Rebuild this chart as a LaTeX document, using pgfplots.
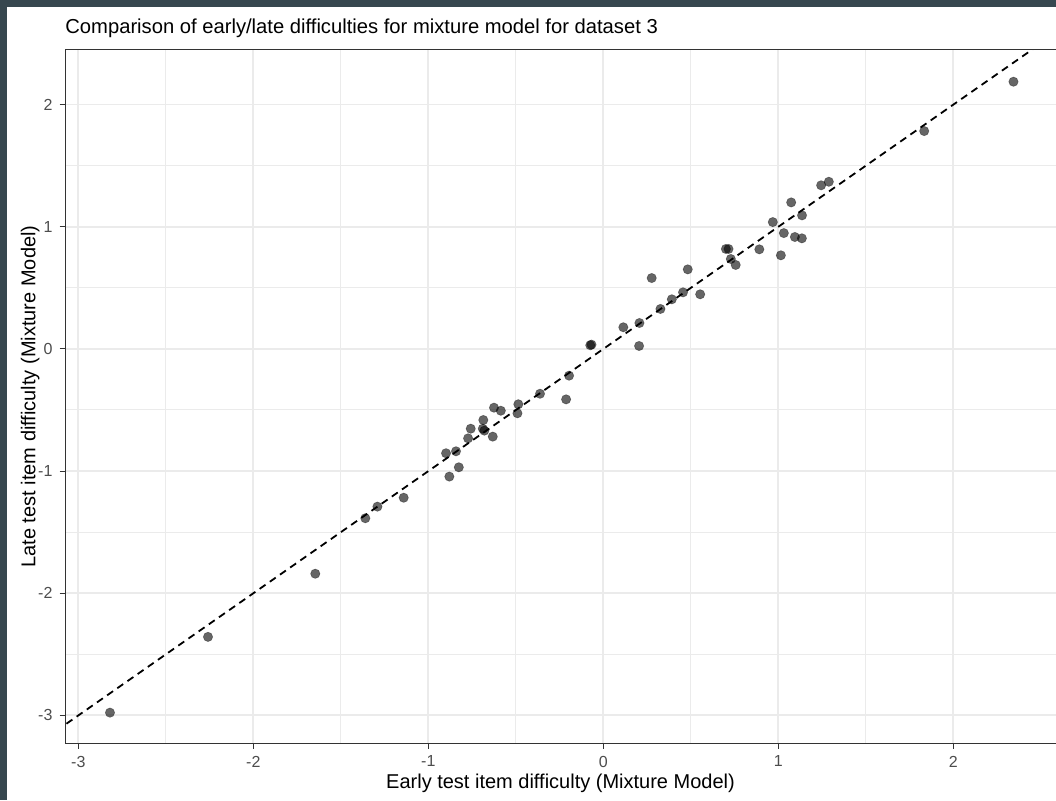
\documentclass[border=0pt]{standalone}
\usepackage{pgfplots}
\pgfplotsset{compat=1.18}
\usepackage{fontspec}
\setmainfont{Liberation Sans}
\definecolor{frame}{HTML}{37474F}
\definecolor{gridc}{HTML}{EBEBEB}
\definecolor{grey20}{HTML}{333333}
\definecolor{grey30}{HTML}{4D4D4D}

\begin{document}
\begin{tikzpicture}
% page: 1 px of the reference = 0.5pt
\path[use as bounding box, fill=frame] (-32.5pt,-28.35pt) rectangle (495.5pt,371.65pt);
\fill[white] (-29pt,-28.35pt) rectangle (495.5pt,368.15pt);
\begin{axis}[
  at={(0,0)}, anchor=south west,
  scale only axis, width=495.5pt, height=346.75pt,
  xmin=-3.076, xmax=2.586, ymin=-3.228, ymax=2.448,
  xtick={-3,-2,-1,0,1,2}, ytick={-3,-2,-1,0,1,2},
  xticklabels={-3,-2,-1,0,1,2}, yticklabels={-3,-2,-1,0,1,2},
  minor tick num=1, minor tick length=0pt,
  major tick length=2.75pt, tick align=outside,
  xtick pos=bottom, ytick pos=left,
  tick style={grey20, line width=0.5pt},
  grid=both,
  major grid style={gridc, line width=0.95pt},
  minor grid style={gridc, line width=0.5pt},
  axis line style={draw=none},
  tick label style={font=\fontsize{8pt}{9pt}\selectfont, text=grey30},
  every axis x label/.style={at={(axis description cs:0.5,0)}, anchor=base,
    yshift=-22.35pt, inner sep=0pt, font=\fontsize{10pt}{12pt}\selectfont},
  every axis y label/.style={at={(axis description cs:0,0.5)}, xshift=-12.5pt, rotate=90,
    anchor=south, inner sep=0pt, font=\fontsize{10pt}{12pt}\selectfont},
  every axis title/.style={at={(axis description cs:0,1)}, anchor=base west,
    yshift=8pt, inner sep=0pt, font=\fontsize{10.1pt}{12pt}\selectfont},
  xlabel={Early test item difficulty (Mixture Model)},
  ylabel={Late test item difficulty (Mixture Model)},
  title={Comparison of early/late difficulties for mixture model for dataset 3},
]
\addplot[black, line width=0.9pt, dash pattern=on 3.6pt off 2.6pt] coordinates {(-3.3,-3.3) (2.7,2.7)};
\addplot[only marks, mark=*, mark size=2.35pt,
  mark options={fill=black, draw=black, fill opacity=0.6, draw opacity=0.35, line width=0.3pt}]
coordinates {
(-2.819,-2.977) (-2.259,-2.357) (-1.646,-1.840) (-1.360,-1.386) (-1.291,-1.291)
(-1.141,-1.218) (-0.899,-0.854) (-0.880,-1.045) (-0.842,-0.838) (-0.826,-0.969)
(-0.773,-0.732) (-0.758,-0.653) (-0.686,-0.582) (-0.689,-0.653) (-0.680,-0.669)
(-0.632,-0.718) (-0.625,-0.481) (-0.586,-0.506) (-0.491,-0.527) (-0.486,-0.453)
(-0.362,-0.367) (-0.213,-0.413) (-0.196,-0.219) (-0.075,0.030) (-0.068,0.035)
(0.114,0.177) (0.206,0.212) (0.204,0.024) (0.276,0.580) (0.326,0.327)
(0.391,0.406) (0.455,0.463) (0.482,0.651) (0.553,0.447) (0.700,0.818)
(0.715,0.818) (0.728,0.736) (0.756,0.687) (0.891,0.815) (0.968,1.038)
(1.014,0.766) (1.031,0.948) (1.073,1.199) (1.094,0.916) (1.134,0.905)
(1.135,1.093) (1.244,1.339) (1.288,1.368) (1.833,1.783) (2.343,2.187)
};
\draw[grey20, line width=0.5pt] (rel axis cs:0,0) -- (rel axis cs:1,0);
\draw[grey20, line width=0.5pt] (rel axis cs:0,0) -- (rel axis cs:0,1) -- (rel axis cs:1,1);
\end{axis}
\end{tikzpicture}
\end{document}
